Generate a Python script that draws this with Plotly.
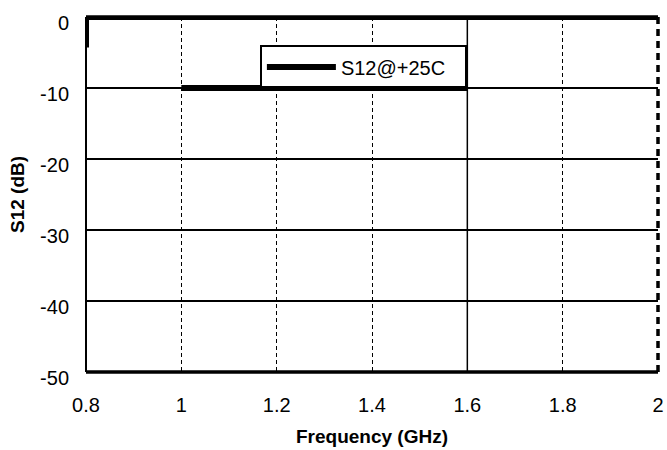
import plotly.graph_objects as go

# Data
freq_ghz = [0.8, 0.8, 2.0, None, 1.0, 1.6]
s12_db = [-4.3, 0.0, 0.0, None, -10.0, -10.0]
series_name = "S12@+25C"

x_ticks = [0.8, 1.0, 1.2, 1.4, 1.6, 1.8, 2.0]
x_tick_text = ["0.8", "1", "1.2", "1.4", "1.6", "1.8", "2"]
y_ticks = [0, -10, -20, -30, -40, -50]
y_tick_text = ["0", "-10", "-20", "-30", "-40", "-50"]
solid_vgrid = [1.6]

FONT = "Liberation Sans, Arial, sans-serif"

fig = go.Figure()
fig.add_trace(go.Scatter(
    x=freq_ghz, y=s12_db, name=series_name, mode="lines",
    line=dict(color="black", width=6), cliponaxis=False, connectgaps=False,
    showlegend=True,
))

shapes = []
for xv in solid_vgrid:
    shapes.append(dict(type="line", xref="x", yref="paper", x0=xv, x1=xv, y0=0, y1=1,
                       line=dict(color="black", width=1.5), layer="above"))
# borders
shapes.append(dict(type="line", xref="paper", yref="paper", x0=0, x1=1, y0=1, y1=1,
                   line=dict(color="black", width=3.5), layer="above"))
shapes.append(dict(type="line", xref="paper", yref="paper", x0=0, x1=1, y0=0, y1=0,
                   line=dict(color="black", width=3.5), layer="above"))
shapes.append(dict(type="line", xref="paper", yref="paper", x0=0, x1=0, y0=0, y1=1,
                   line=dict(color="black", width=2), layer="above"))
shapes.append(dict(type="line", xref="paper", yref="paper", x0=1, x1=1, y0=0, y1=1,
                   line=dict(color="black", width=3.5, dash="7px,5px"), layer="above"))

fig.update_layout(
    width=667, height=450,
    margin=dict(l=86, r=9, t=17, b=78, autoexpand=False),
    paper_bgcolor="white", plot_bgcolor="white",
    font=dict(family=FONT, size=20, color="black"),
    shapes=shapes,
    showlegend=True,
    legend=dict(
        x=0.304, y=0.92, xanchor="left", yanchor="top",
        orientation="h",
        bgcolor="white", bordercolor="black", borderwidth=2,
        font=dict(family=FONT, size=20, color="black"),
        itemwidth=69, entrywidth=119, entrywidthmode="pixels", tracegroupgap=0,
    ),
    xaxis=dict(
        range=[0.8, 2.0], tickvals=x_ticks, ticktext=x_tick_text,
        showgrid=True, gridcolor="black", gridwidth=1, griddash="4px,3px",
        zeroline=False, showline=False, ticks="", automargin=False,
        ticklabelstandoff=19,
        title=dict(text="<b>Frequency (GHz)</b>", font=dict(family=FONT, size=19), standoff=14),
    ),
    yaxis=dict(
        range=[-50, 0], tickvals=y_ticks, ticktext=y_tick_text,
        showgrid=True, gridcolor="black", gridwidth=1.5,
        zeroline=False, showline=False, ticks="", automargin=False,
        ticklabelstandoff=16, ticklabelshift=6,
        title=dict(text="<b>S12 (dB)</b>", font=dict(family=FONT, size=19), standoff=10),
    ),
)

fig.write_html(
    "out.html",
    config={"displayModeBar": False},
    post_script="document.body.style.margin='0px';document.body.style.overflow='hidden';",
)
